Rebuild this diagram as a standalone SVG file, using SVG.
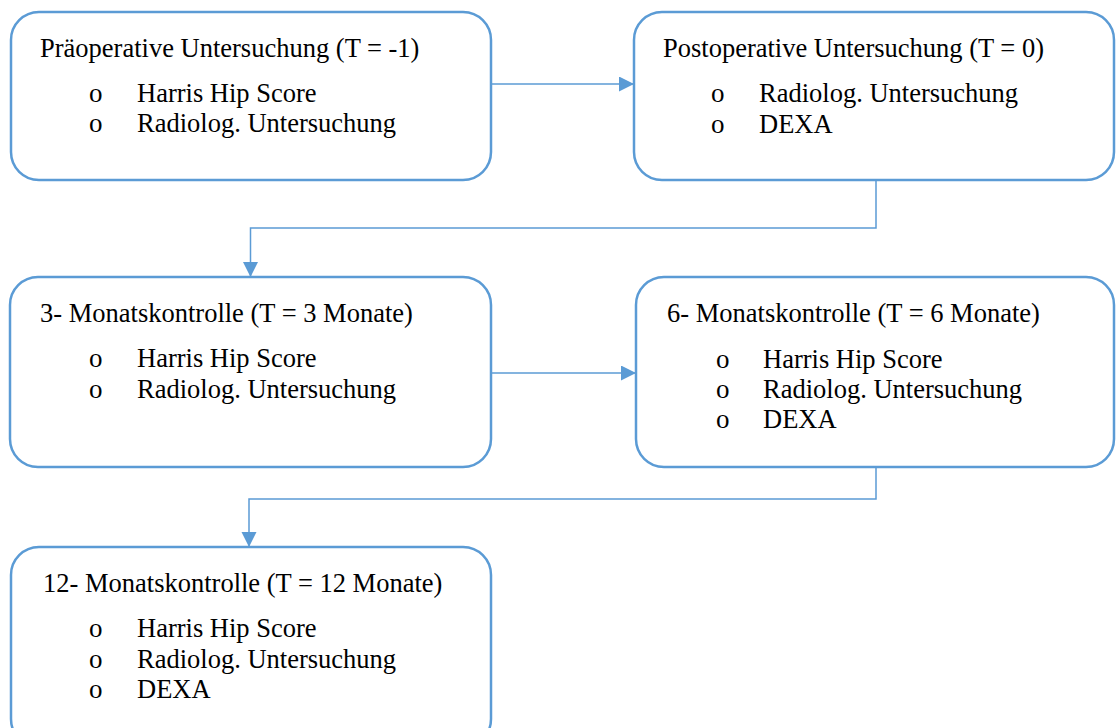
<svg xmlns="http://www.w3.org/2000/svg" width="1116" height="728" viewBox="0 0 1116 728">
<style>
.box{fill:#ffffff;stroke:#5B9BD5;stroke-width:2.5}
.con{fill:none;stroke:#5B9BD5;stroke-width:1.5}
text{font-family:"Liberation Serif","Times New Roman",serif;font-size:26.5px;fill:#000}
.b{font-size:27px}
</style>
<defs>
<marker id="arr" markerUnits="userSpaceOnUse" markerWidth="16" markerHeight="16" refX="15" refY="7.5" orient="auto">
<path d="M0,0 L15,7.5 L0,15 Z" fill="#5B9BD5"/>
</marker>
</defs>
<rect width="1116" height="728" fill="#ffffff"/>
<g id="connectors">
<path class="con" d="M492,84 H634" marker-end="url(#arr)"/>
<path class="con" d="M876,181 V228 H250.5 V277" marker-end="url(#arr)"/>
<path class="con" d="M492,373 H636" marker-end="url(#arr)"/>
<path class="con" d="M876,468 V499 H249 V547" marker-end="url(#arr)"/>
</g>
<g id="n1">
<rect class="box" x="11" y="12" width="480" height="168" rx="28"/>
<text x="40" y="57">Präoperative Untersuchung (T = -1)</text>
<text class="b" x="89" y="102">o</text><text x="137" y="102">Harris Hip Score</text>
<text class="b" x="89" y="132">o</text><text x="137" y="132">Radiolog. Untersuchung</text>
</g>
<g id="n2">
<rect class="box" x="634" y="12" width="480" height="168" rx="28"/>
<text x="663" y="57">Postoperative Untersuchung (T = 0)</text>
<text class="b" x="711" y="102">o</text><text x="759" y="102">Radiolog. Untersuchung</text>
<text class="b" x="711" y="133">o</text><text x="759" y="133">DEXA</text>
</g>
<g id="n3">
<rect class="box" x="10" y="277" width="481" height="190" rx="28"/>
<text x="40" y="322">3- Monatskontrolle (T = 3 Monate)</text>
<text class="b" x="89" y="367">o</text><text x="137" y="367">Harris Hip Score</text>
<text class="b" x="89" y="398">o</text><text x="137" y="398">Radiolog. Untersuchung</text>
</g>
<g id="n4">
<rect class="box" x="636" y="277" width="478" height="190" rx="28"/>
<text x="667" y="322">6- Monatskontrolle (T = 6 Monate)</text>
<text class="b" x="716" y="368">o</text><text x="763" y="368">Harris Hip Score</text>
<text class="b" x="716" y="398">o</text><text x="763" y="398">Radiolog. Untersuchung</text>
<text class="b" x="716" y="428">o</text><text x="763" y="428">DEXA</text>
</g>
<g id="n5">
<rect class="box" x="11" y="547" width="480" height="200" rx="28"/>
<text x="43" y="592">12- Monatskontrolle (T = 12 Monate)</text>
<text class="b" x="89" y="637">o</text><text x="137" y="637">Harris Hip Score</text>
<text class="b" x="89" y="668">o</text><text x="137" y="668">Radiolog. Untersuchung</text>
<text class="b" x="89" y="698">o</text><text x="137" y="698">DEXA</text>
</g>
</svg>
